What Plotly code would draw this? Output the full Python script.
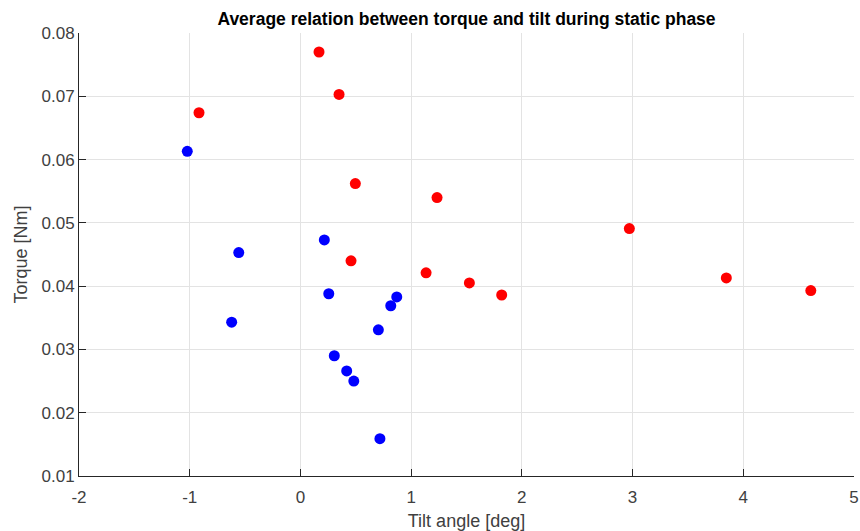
import plotly.graph_objects as go

red_tilt = [-0.916, 0.168, 0.349, 0.496, 1.234, 0.457, 1.135, 1.526, 1.818, 2.971, 3.847, 4.610]
red_torque = [0.0674, 0.0770, 0.0703, 0.0562, 0.0540, 0.0440, 0.0421, 0.0405, 0.0386, 0.0491, 0.0413, 0.0393]

blue_tilt = [-1.022, -0.557, -0.621, 0.216, 0.256, 0.306, 0.418, 0.482, 0.704, 0.816, 0.870, 0.718]
blue_torque = [0.0613, 0.0453, 0.0343, 0.0473, 0.0388, 0.0290, 0.0266, 0.0250, 0.0331, 0.0369, 0.0383, 0.0159]

x_ticks = [-2, -1, 0, 1, 2, 3, 4, 5]
y_ticks = [0.01, 0.02, 0.03, 0.04, 0.05, 0.06, 0.07, 0.08]

font_family = "Liberation Sans, Arial, sans-serif"

fig = go.Figure()
fig.add_trace(go.Scatter(x=blue_tilt, y=blue_torque, mode="markers",
                         marker=dict(color="#0000ff", size=11), showlegend=False))
fig.add_trace(go.Scatter(x=red_tilt, y=red_torque, mode="markers",
                         marker=dict(color="#ff0000", size=11), showlegend=False))

axis_common = dict(
    showgrid=True, gridcolor="#e3e3e3", gridwidth=1,
    showline=True, linecolor="#262626", linewidth=1,
    ticks="inside", ticklen=7, tickcolor="#262626",
    tickfont=dict(family=font_family, size=17, color="#404040"),
    zeroline=False, automargin=False,
)

fig.update_layout(
    width=860, height=531,
    margin=dict(l=79, r=6, t=33, b=55),
    paper_bgcolor="white", plot_bgcolor="white",
    title=dict(text="<b>Average relation between torque and tilt during static phase</b>",
               x=(79 + 854) / 2 / 860, xanchor="center", y=1 - 19 / 531, yanchor="middle",
               font=dict(family=font_family, size=17.5, color="#000000"), automargin=False),
    xaxis=dict(range=[-2, 5.0001], tickvals=x_ticks, ticktext=[str(v) for v in x_ticks],
               ticklabelstandoff=6,
               title=dict(text="Tilt angle [deg]", standoff=9,
                          font=dict(family=font_family, size=18, color="#404040")),
               **axis_common),
    yaxis=dict(range=[0.01, 0.08], tickvals=y_ticks, ticktext=[f"{v:.2f}" for v in y_ticks],
               title=dict(text="Torque [Nm]", standoff=9,
                          font=dict(family=font_family, size=18, color="#404040")),
               **axis_common),
)

fig.write_html("out.html", post_script="document.body.style.margin='0';",
               config={"displayModeBar": False})
